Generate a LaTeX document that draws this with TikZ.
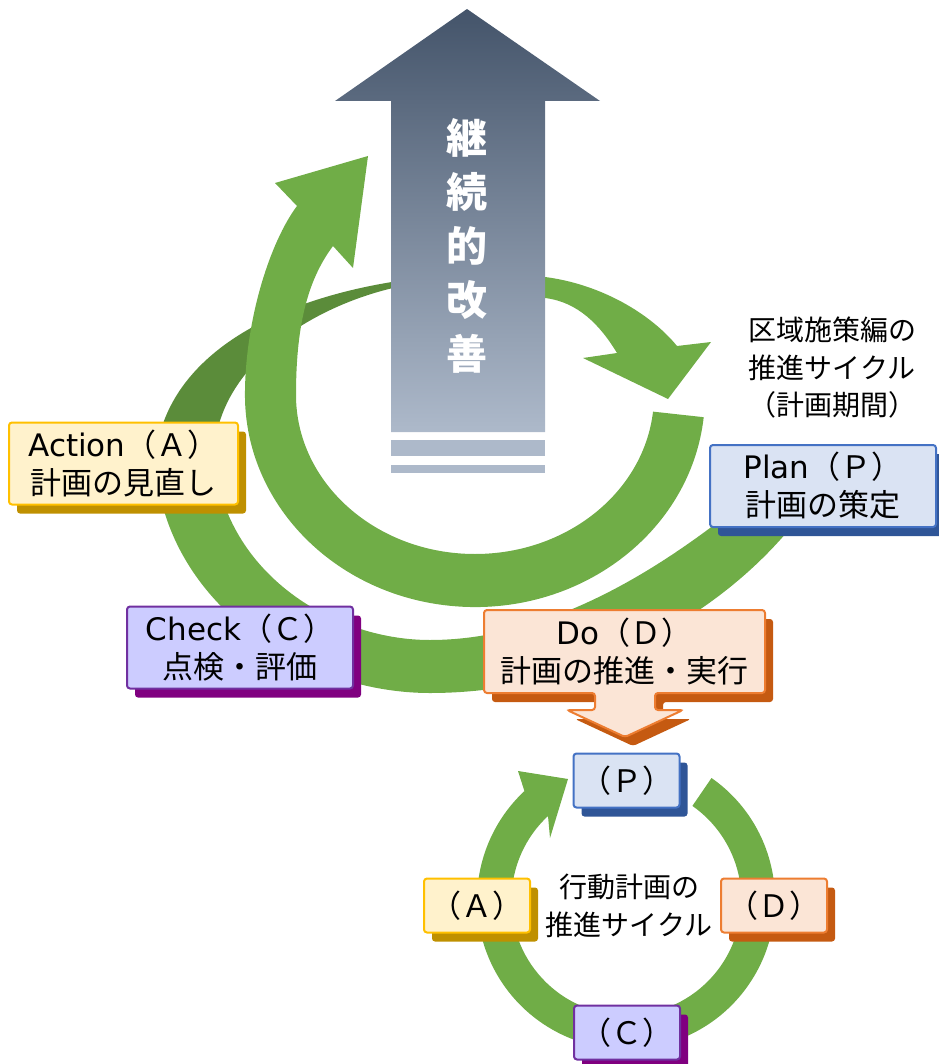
\documentclass[tikz,border=0pt]{standalone}
\usepackage{fontspec}
\setmainfont{Noto Sans CJK JP}
\newfontfamily\latinfont{DejaVu Sans}
\usepackage{xcolor}
\definecolor{leaf}{HTML}{70AD47}
\definecolor{leafdark}{HTML}{5B8C3A}
\definecolor{slatetop}{HTML}{44546A}
\definecolor{slatebot}{HTML}{ADB9CA}
\definecolor{actfill}{HTML}{FFF2CC}
\definecolor{actline}{HTML}{FFC000}
\definecolor{actshade}{HTML}{BF9000}
\definecolor{planfill}{HTML}{DAE3F3}
\definecolor{planline}{HTML}{4472C4}
\definecolor{planshade}{HTML}{2F5597}
\definecolor{chkfill}{HTML}{CCCCFF}
\definecolor{chkline}{HTML}{7030A0}
\definecolor{chkshade}{HTML}{800080}
\definecolor{dofill}{HTML}{FBE5D6}
\definecolor{doline}{HTML}{ED7D31}
\definecolor{doshade}{HTML}{C55A11}
\usepackage{tikz}
\usetikzlibrary{shadows}

\begin{document}
\begin{tikzpicture}[
    x=1pt, y=-1pt,
    font=\fontsize{31}{38}\selectfont,
    stage/.style={rounded corners=3pt, line width=2pt, align=center, inner sep=0pt, minimum height=82pt},
    tag/.style={rounded corners=3pt, line width=2pt, inner sep=0pt, minimum width=106pt, minimum height=54pt},
    note/.style={font=\fontsize{28}{37.5}\selectfont, align=center},
    shade on/.style={drop shadow={shadow xshift=8pt, shadow yshift=-9pt, fill=#1, opacity=1}}
]

\useasboundingbox (0,0) rectangle (938,1064);

% ── Outer loop, back half ──
\fill[leafdark] (155,465) .. controls (160,360) and (270,296) .. (420,278)
    -- (420,283) .. controls (330,295) and (210,360) .. (214,465) -- cycle;

% ── Outer loop, front half ──
\fill[leaf] (725,516) -- (710,528) .. controls (640,580) and (540,640) .. (430,640)
    .. controls (330,640) and (222,570) .. (214,455)
    -- (155,455) .. controls (160,600) and (300,693) .. (430,693)
    .. controls (580,693) and (720,620) .. (800,516) -- cycle;

% ── Inner loop with its head ──
\fill[leaf] (703.7,417.2) arc[start angle=6, end angle=180, x radius=230, y radius=212]
    .. controls (245,320) and (270,242) .. (297,206)
    -- (275,183) -- (368,156) -- (353,268) -- (333,246)
    .. controls (306,282) and (296,330) .. (296,395)
    arc[start angle=180, end angle=6, x radius=179, y radius=159] -- cycle;

% ── Top band towards Plan ──
\fill[leaf] (520,276) -- (545,277) .. controls (600,284) and (650,313) .. (677,346)
    -- (711,342) -- (668,399) -- (583,358) -- (617,353)
    .. controls (600,325) and (578,302) .. (545,298) -- (520,297) -- cycle;

% ── Improvement arrow ──
\shade[top color=slatetop, bottom color=slatebot] (391,432) -- (391,101) -- (335,101) -- (467,9) -- (600,101) -- (545,101) -- (545,432) -- cycle;
\fill[slatebot] (391,440) rectangle (545,456);
\fill[slatebot] (391,465) rectangle (545,473);
\node[text=white, font=\fontsize{41}{54}\selectfont\bfseries, align=center] (kaizen) at (467,246) {継\\続\\的\\改\\善};

\node[note] (zone) at (832,368) {区域施策編の\\推進サイクル\\（計画期間）};

% ── Small cycle ──
\fill[leaf] (711.5,778) arc[start angle=-55, end angle=227, radius=149]
    -- (518,771) -- (568,779) -- (550,838) -- (548,816)
    arc[start angle=227, end angle=-55, radius=115] -- cycle;
\node[note] (actplan) at (629,906) {行動計画の\\推進サイクル};

% ── PDCA boxes ──
\node[stage, shade on=actshade, fill=actfill, draw=actline, minimum width=229pt] (act) at (123.5,463.5) {{\latinfont Action}（Ａ）\\計画の見直し};
\node[stage, shade on=planshade, fill=planfill, draw=planline, minimum width=226pt] (plan) at (823,486) {{\latinfont Plan}（Ｐ）\\計画の策定};
\node[stage, shade on=chkshade, fill=chkfill, draw=chkline, minimum width=226pt] (chk) at (240,647.5) {{\latinfont Check}（Ｃ）\\点検・評価};

\fill[doshade, rounded corners=3pt, shift={(8,9)}] (484,610) -- (765,610) -- (765,693) -- (655,693) -- (655,710) -- (683,710) -- (625,737) -- (567,710) -- (595,710) -- (595,693) -- (484,693) -- cycle;
\draw[fill=dofill, draw=doline, line width=2pt, rounded corners=3pt] (484,610) -- (765,610) -- (765,693) -- (655,693) -- (655,710) -- (683,710) -- (625,737) -- (567,710) -- (595,710) -- (595,693) -- (484,693) -- cycle;
\node[align=center] (do) at (624.5,651.5) {{\latinfont Do}（Ｄ）\\計画の推進・実行};

% ── Small boxes ──
\node[tag, shade on=planshade, fill=planfill, draw=planline] (p) at (626.5,780.5) {（Ｐ）};
\node[tag, shade on=actshade, fill=actfill, draw=actline] (a) at (477,905.5) {（Ａ）};
\node[tag, shade on=doshade, fill=dofill, draw=doline] (d) at (774,905.5) {（Ｄ）};
\node[tag, shade on=chkshade, fill=chkfill, draw=chkline] (c) at (627,1032.5) {（Ｃ）};
\end{tikzpicture}
\end{document}
